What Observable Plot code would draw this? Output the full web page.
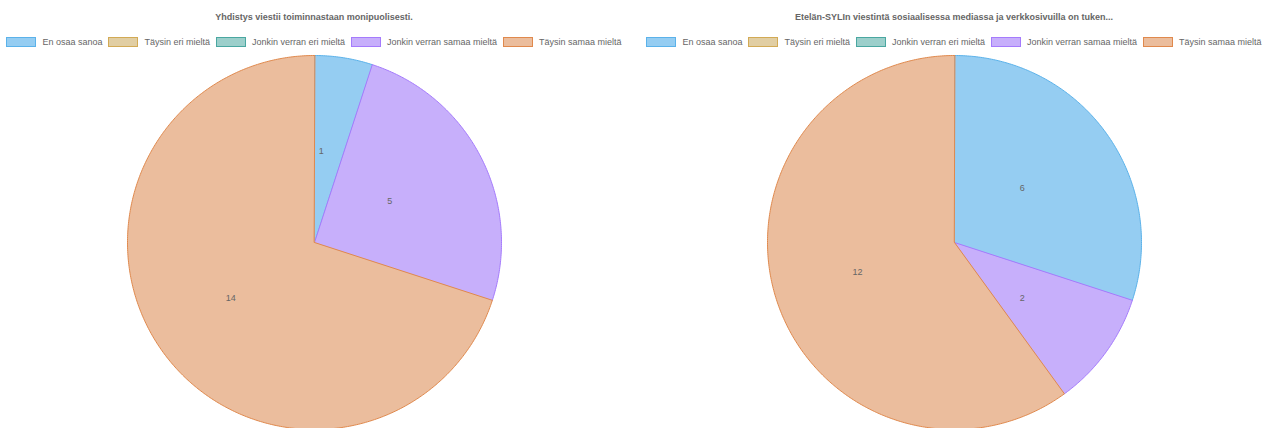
<!DOCTYPE html>
<html><head><meta charset="utf-8">
<script src="https://cdn.jsdelivr.net/npm/d3@7"></script>
<script src="https://cdn.jsdelivr.net/npm/@observablehq/plot@0.6"></script>
<style>
body{margin:0;background:#fff;font-family:"Helvetica Neue",Helvetica,Arial,"Liberation Sans",sans-serif;}
#wrap{display:flex;width:1270px;height:428px;overflow:hidden;}
.chart{width:628px;flex:0 0 628px;position:relative;}
.chart + .chart{margin-left:12px;}
.title{height:30px;line-height:35px;text-align:center;font-weight:bold;font-size:9px;color:#666;}
.legend{height:20px;margin-top:2px;display:flex;justify-content:center;align-items:center;font-size:9px;color:#666;white-space:nowrap;}
.legend .it{display:flex;align-items:center;margin:0 3px;flex:0 0 auto;}
.legend .sw{width:28px;height:8px;margin-right:6px;border:1px solid;flex:0 0 auto;}
svg{display:block;}
</style></head>
<body><div id="wrap"></div>
<script>
const categories = ["En osaa sanoa","Täysin eri mieltä","Jonkin verran eri mieltä","Jonkin verran samaa mieltä","Täysin samaa mieltä"];
const titles = ["Yhdistys viestii toiminnastaan monipuolisesti.","Etelän-SYLIn viestintä sosiaalisessa mediassa ja verkkosivuilla on tuken..."];
const valuesA = [1,0,0,5,14];
const valuesB = [6,0,0,2,12];
const fillColors = ["#95CDF2","#E1CEA3","#9CCFCB","#C7AFFB","#EBBD9D"];
const strokeColors = ["#5BB2EA","#D2AA55","#4AA7A1","#A57BFC","#E0894D"];

const W = 628, H = 376, R = 187, CY = 190;

function makeChart(title, values){
  const div = document.createElement("div");
  div.className = "chart";
  const t = document.createElement("div"); t.className="title"; t.textContent = title; div.appendChild(t);
  const lg = document.createElement("div"); lg.className="legend";
  categories.forEach((c,i)=>{
    const it=document.createElement("div"); it.className="it";
    const sw=document.createElement("span"); sw.className="sw"; sw.style.background=fillColors[i]; sw.style.borderColor=strokeColors[i];
    const tx=document.createElement("span"); tx.textContent=c;
    it.appendChild(sw); it.appendChild(tx); lg.appendChild(it);
  });
  div.appendChild(lg);

  const data = categories.map((c,i)=>({cat:c, value:values[i], i}));
  const arcs = d3.pie().sort(null).value(d=>d.value)(data);
  const pts = [];
  const labels = [];
  arcs.forEach(a=>{
    if (a.endAngle - a.startAngle <= 0) return;
    const i = a.data.i;
    pts.push({cat:a.data.cat, i, x:0, y:0});
    const n = Math.max(2, Math.ceil((a.endAngle-a.startAngle)/0.01));
    for (let k=0;k<=n;k++){
      const ang = a.startAngle + (a.endAngle-a.startAngle)*k/n;
      pts.push({cat:a.data.cat, i, x:R*Math.sin(ang), y:R*Math.cos(ang)});
    }
    const mid = (a.startAngle+a.endAngle)/2;
    labels.push({x:(R/2)*Math.sin(mid), y:(R/2)*Math.cos(mid), text:String(a.data.value)});
  });
  const marks = arcs.filter(a=>a.endAngle>a.startAngle).map(a=>Plot.line(pts.filter(p=>p.i===a.data.i),{
    x:"x", y:"y", curve:"linear-closed", fill:fillColors[a.data.i], stroke:strokeColors[a.data.i], strokeWidth:1
  }));
  const svg = Plot.plot({
    width:W, height:H, margin:0,
    x:{domain:[-W/2, W/2], axis:null},
    y:{domain:[CY-H, CY], axis:null},
    style:{fontFamily:'"Helvetica Neue",Helvetica,Arial,"Liberation Sans",sans-serif'},
    marks:[
      ...marks,
      Plot.text(labels,{x:"x", y:"y", text:"text", fill:"#666", fontSize:9, dx:-8, dy:1})
    ]
  });
  svg.style.overflow="visible";
  div.appendChild(svg);
  return div;
}
const wrap = document.getElementById("wrap");
wrap.appendChild(makeChart(titles[0], valuesA));
wrap.appendChild(makeChart(titles[1], valuesB));
</script></body></html>
